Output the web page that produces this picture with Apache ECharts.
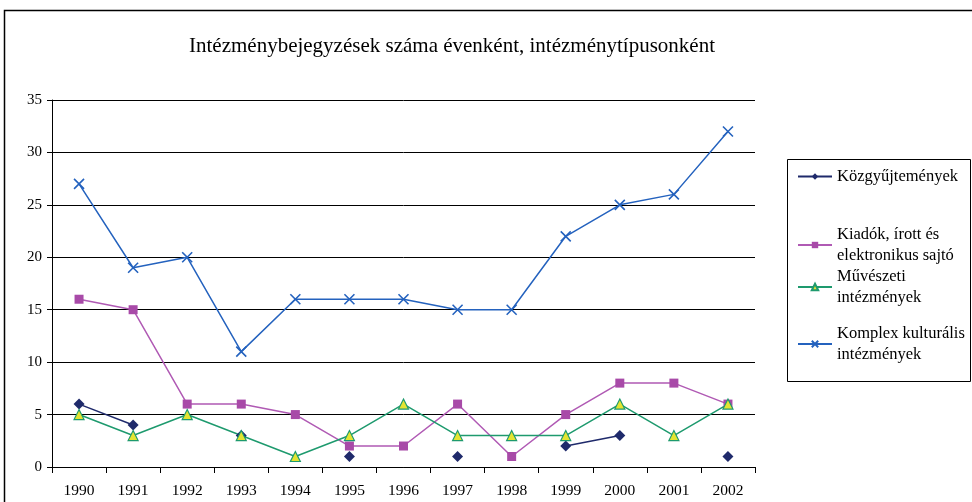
<!DOCTYPE html>
<html><head><meta charset="utf-8">
<script src="https://cdn.jsdelivr.net/npm/echarts@6/dist/echarts.min.js"></script>
<style>html,body{margin:0;padding:0;background:#fff}#c{width:972px;height:502px}</style>
</head><body><div id="c"></div>
<script>
const years = ['1990','1991','1992','1993','1994','1995','1996','1997','1998','1999','2000','2001','2002'];
const kozgyujtemenyek = [6, 4, null, 3, null, 1, null, 1, null, 2, 3, null, 1];
const kiadok = [16, 15, 6, 6, 5, 2, 2, 6, 1, 5, 8, 8, 6];
const muveszeti = [5, 3, 5, 3, 1, 3, 6, 3, 3, 3, 6, 3, 6];
const komplex = [27, 19, 20, 11, 16, 16, 16, 15, 15, 22, 25, 26, 32];
const yTicks = [0, 5, 10, 15, 20, 25, 30, 35];
const names = ['Közgyűjtemények', 'Kiadók, írott és elektronikus sajtó', 'Művészeti intézmények', 'Komplex kulturális intézmények'];
const legendLabels = ['Közgyűjtemények', 'Kiadók, írott és\nelektronikus sajtó', 'Művészeti\nintézmények', 'Komplex kulturális\nintézmények'];

const font = 'Liberation Serif';
const navy = '#1F2A6B', magenta = '#B05AB4', green = '#1E9A6E', blue = '#2462BE';

const chart = echarts.init(document.getElementById('c'), null, {renderer: 'canvas'});
const legTops = [166, 224, 266, 323];
const legends = names.map((n, i) => ({
  data: [n], left: 797, top: legTops[i], orient: 'vertical',
  itemWidth: 34, itemHeight: 8, itemGap: 0, padding: 0,
  formatter: () => legendLabels[i],
  textStyle: {fontFamily: font, fontSize: 16.5, color: '#000', lineHeight: 21}
}));

chart.setOption({
  animation: false,
  backgroundColor: '#fff',
  title: {
    text: 'Intézménybejegyzések száma évenként, intézménytípusonként',
    left: 447, top: 31, textAlign: 'center',
    textStyle: {fontFamily: font, fontSize: 21, fontWeight: 'normal', color: '#000'}
  },
  graphic: [
    {type: 'rect', shape: {x: 4.5, y: 10.5, width: 980, height: 520}, style: {fill: 'none', stroke: '#000', lineWidth: 1.5}, silent: true, z: -1},
    {type: 'rect', shape: {x: 787.5, y: 159.5, width: 183, height: 222}, style: {fill: '#fff', stroke: '#000', lineWidth: 1}, silent: true, z: 0}
  ],
  legend: legends,
  grid: {left: 52, right: 217, top: 100, bottom: 35},
  xAxis: {
    type: 'category', data: years, boundaryGap: true,
    axisLine: {lineStyle: {color: '#000', width: 1}},
    axisTick: {show: true, inside: false, length: 6, interval: 0, lineStyle: {color: '#000'}},
    axisLabel: {fontFamily: font, fontSize: 15.5, color: '#000', margin: 16, interval: 0}
  },
  yAxis: {
    type: 'value', min: 0, max: 35, interval: 5,
    axisLine: {show: true, lineStyle: {color: '#000', width: 1}},
    axisTick: {show: true, inside: false, length: 5, lineStyle: {color: '#000'}},
    axisLabel: {fontFamily: font, fontSize: 15, color: '#000', margin: 10,
      formatter: v => yTicks.includes(v) ? String(v) : ''},
    splitLine: {show: true, lineStyle: {color: '#000', width: 1}}
  },
  series: [
    {name: names[0], type: 'line', data: kozgyujtemenyek, connectNulls: false,
      symbol: 'diamond', symbolSize: 11, color: navy,
      lineStyle: {color: navy, width: 1.5}, itemStyle: {color: navy}},
    {name: names[1], type: 'line', data: kiadok,
      symbol: 'rect', symbolSize: 9, color: magenta,
      lineStyle: {color: magenta, width: 1.5}, itemStyle: {color: '#A84AA8'}},
    {name: names[2], type: 'line', data: muveszeti,
      symbol: 'triangle', symbolSize: 10, color: green,
      lineStyle: {color: green, width: 1.5}, itemStyle: {color: '#E4E432', borderColor: green, borderWidth: 1.2}},
    {name: names[3], type: 'line', data: komplex,
      symbol: 'path://M0,0L10,10M10,0L0,10', symbolSize: 10, color: blue,
      lineStyle: {color: blue, width: 1.5}, itemStyle: {color: blue, borderColor: blue, borderWidth: 1.6}}
  ]
});
</script></body></html>
